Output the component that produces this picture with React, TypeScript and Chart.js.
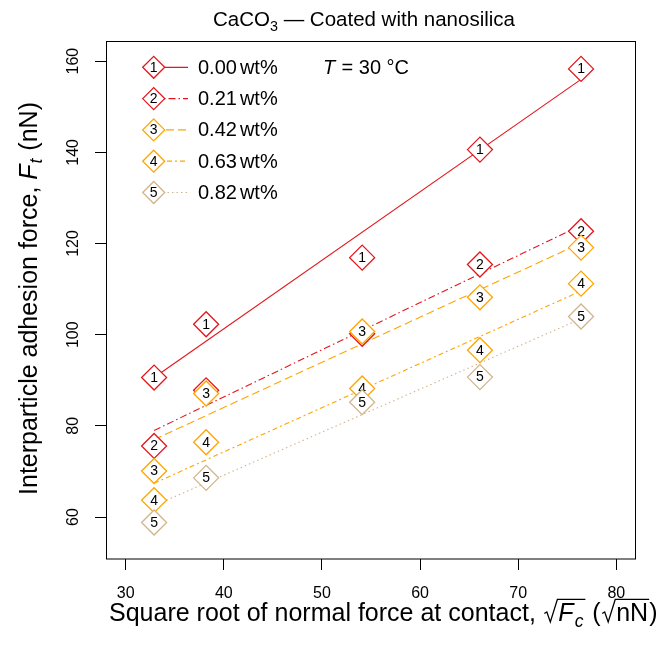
import React, { useEffect, useRef } from 'react';
import { Chart, registerables } from 'chart.js';

Chart.register(...registerables);

// ---- data ----
const xValues = [32.9, 38.2, 54.1, 66.1, 76.4];
const force000 = [90.6, 102.3, 116.9, 140.6, 158.3];
const force021 = [75.6, 87.8, 100.2, 115.4, 122.7];
const force042 = [70.1, 87.1, 100.7, 108.2, 119.1];
const force063 = [63.7, 76.4, 88.2, 96.6, 111.2];
const force082 = [58.8, 68.6, 85.2, 90.7, 104.0];

// fitted straight lines (end points)
const fitX = [32.9, 76.4];
const fit000 = [90.6, 156.0];
const fit021 = [79.0, 124.0];
const fit042 = [77.0, 120.1];
const fit063 = [67.4, 109.6];
const fit082 = [62.5, 103.5];

const seriesLabels = ['0.00', '0.21', '0.42', '0.63', '0.82'];
const xTicks = [30, 40, 50, 60, 70, 80];
const yTicks = [60, 80, 100, 120, 140, 160];

// ---- styles ----
const SERIES = [force000, force021, force042, force063, force082];
const FITS = [fit000, fit021, fit042, fit063, fit082];
const COLORS = ['#E3161C', '#E3161C', '#FFA500', '#FFA500', '#D2B48C'];
const DASHES: number[][] = [[], [7, 3, 1.5, 3], [8, 4], [5, 3, 2, 3], [1.5, 3]];
const SANS = '"Liberation Sans", Arial, sans-serif';

type Seg = { t?: string; italic?: boolean; sub?: boolean; sqrt?: Seg[]; gap?: number };

function fontFor(size: number, italic?: boolean) {
  return `${italic ? 'italic ' : ''}${size}px ${SANS}`;
}

function segWidth(ctx: CanvasRenderingContext2D, seg: Seg, size: number): number {
  if (seg.gap) return seg.gap * size;
  if (seg.sqrt) return size * 0.62 + segsWidth(ctx, seg.sqrt, size) + size * 0.04;
  const s = seg.sub ? size * 0.7 : size;
  ctx.font = fontFor(s, seg.italic);
  return ctx.measureText(seg.t || '').width + (seg.italic ? size * 0.04 : 0);
}
function segsWidth(ctx: CanvasRenderingContext2D, segs: Seg[], size: number): number {
  return segs.reduce((a, s) => a + segWidth(ctx, s, size), 0);
}
function drawSegs(ctx: CanvasRenderingContext2D, segs: Seg[], x: number, y: number, size: number, color: string): number {
  let cx = x;
  for (const seg of segs) {
    ctx.fillStyle = color;
    ctx.textBaseline = 'alphabetic';
    ctx.textAlign = 'left';
    if (seg.gap) { cx += seg.gap * size; continue; }
    if (seg.sqrt) {
      const inner = segsWidth(ctx, seg.sqrt, size);
      const rw = size * 0.62;
      const top = y - size * 0.86;
      ctx.save();
      ctx.strokeStyle = color;
      ctx.lineWidth = Math.max(1, size * 0.05);
      ctx.lineJoin = 'miter';
      ctx.beginPath();
      ctx.moveTo(cx + size * 0.06, y - size * 0.3);
      ctx.lineTo(cx + size * 0.16, y - size * 0.36);
      ctx.lineTo(cx + size * 0.3, y + size * 0.04);
      ctx.lineTo(cx + rw - size * 0.04, top);
      ctx.lineTo(cx + rw + inner + size * 0.04, top);
      ctx.stroke();
      ctx.restore();
      drawSegs(ctx, seg.sqrt, cx + rw, y, size, color);
      cx += rw + inner + size * 0.04;
      continue;
    }
    const s = seg.sub ? size * 0.7 : size;
    ctx.font = fontFor(s, seg.italic);
    ctx.fillText(seg.t || '', cx, seg.sub ? y + size * 0.22 : y);
    cx += ctx.measureText(seg.t || '').width + (seg.italic ? size * 0.04 : 0);
  }
  return cx;
}
function fitSize(ctx: CanvasRenderingContext2D, segs: Seg[], target: number) {
  return (20 * target) / segsWidth(ctx, segs, 20);
}

const TITLE: Seg[] = [{ t: 'CaCO' }, { t: '3', sub: true }, { t: ' \u2014 Coated with nanosilica' }];
const X_TITLE: Seg[] = [
  { t: 'Square root of normal force at contact, ' },
  { sqrt: [{ t: 'F', italic: true }, { t: 'c', italic: true, sub: true }] },
  { t: ' (' },
  { sqrt: [{ t: 'nN' }] },
  { t: ')' },
];
const Y_TITLE: Seg[] = [
  { t: 'Interparticle adhesion force, ' },
  { t: 'F', italic: true },
  { t: 't', italic: true, sub: true },
  { t: ' (nN)' },
];

function drawDiamond(ctx: CanvasRenderingContext2D, x: number, y: number, r: number, color: string, label: string) {
  ctx.save();
  ctx.beginPath();
  ctx.moveTo(x - r, y);
  ctx.lineTo(x, y - r);
  ctx.lineTo(x + r, y);
  ctx.lineTo(x, y + r);
  ctx.closePath();
  ctx.fillStyle = '#fff';
  ctx.fill();
  ctx.strokeStyle = color;
  ctx.lineWidth = 1.3;
  ctx.stroke();
  ctx.fillStyle = '#000';
  ctx.font = `14px ${SANS}`;
  ctx.textAlign = 'center';
  ctx.textBaseline = 'middle';
  ctx.fillText(label, x, y + 0.5);
  ctx.restore();
}

const markerNumbers = {
  id: 'markerNumbers',
  afterDatasetDraw(chart: any, args: any) {
    const ds = chart.data.datasets[args.index];
    if (!ds.markerText) return;
    const ctx = chart.ctx as CanvasRenderingContext2D;
    ctx.save();
    ctx.fillStyle = '#000';
    ctx.font = `14px ${SANS}`;
    ctx.textAlign = 'center';
    ctx.textBaseline = 'middle';
    args.meta.data.forEach((el: any) => {
      ctx.fillText(ds.markerText, el.x, el.y + 0.5);
    });
    ctx.restore();
  },
};

const overlay = {
  id: 'overlay',
  afterDraw(chart: any) {
    const ctx = chart.ctx as CanvasRenderingContext2D;
    const ca = chart.chartArea;
    ctx.save();
    // box
    ctx.strokeStyle = '#000';
    ctx.lineWidth = 1;
    ctx.setLineDash([]);
    ctx.strokeRect(Math.round(ca.left) + 0.5, Math.round(ca.top) - 0.5, Math.round(ca.right - ca.left) - 1, Math.round(ca.bottom - ca.top) + 0.5);

    // y tick labels (rotated, as in the reference), positioned by the y scale
    const yScale = chart.scales.y;
    ctx.fillStyle = '#000';
    ctx.font = `16px ${SANS}`;
    ctx.textAlign = 'center';
    ctx.textBaseline = 'middle';
    yTicks.forEach((v) => {
      const py = yScale.getPixelForValue(v);
      ctx.save();
      ctx.translate(74, py);
      ctx.rotate(-Math.PI / 2);
      ctx.fillText(String(v), 0, 0);
      ctx.restore();
    });

    // title
    const ts = fitSize(ctx, TITLE, 302);
    drawSegs(ctx, TITLE, 213, 26, ts, '#000');

    // x title
    const xs = fitSize(ctx, X_TITLE, 549);
    drawSegs(ctx, X_TITLE, 109, 621, xs, '#000');

    // y title
    const ys = fitSize(ctx, Y_TITLE, 393);
    const yw = segsWidth(ctx, Y_TITLE, ys);
    ctx.save();
    ctx.translate(36.5, 298.5);
    ctx.rotate(-Math.PI / 2);
    drawSegs(ctx, Y_TITLE, -yw / 2, 0, ys, '#000');
    ctx.restore();

    // legend
    for (let i = 0; i < seriesLabels.length; i++) {
      const y = 67.3 + i * 31.3;
      ctx.save();
      ctx.strokeStyle = COLORS[i];
      ctx.lineWidth = 1.2;
      ctx.setLineDash(DASHES[i]);
      ctx.beginPath();
      ctx.moveTo(154, y);
      ctx.lineTo(188, y);
      ctx.stroke();
      ctx.restore();
      drawDiamond(ctx, 153.7, y, 11, COLORS[i], String(i + 1));
      drawSegs(ctx, [{ t: seriesLabels[i] }, { gap: 0.15 }, { t: 'wt%' }], 198, y + 6.5, 20, '#000');
    }
    // temperature note
    drawSegs(ctx, [{ t: 'T', italic: true }, { t: ' = 30 \u00B0C' }], 323, 73.8, 20, '#000');
    ctx.restore();
  },
};

export default function App() {
  const ref = useRef<HTMLCanvasElement | null>(null);
  useEffect(() => {
    if (!ref.current) return;
    const datasets: any[] = [];
    FITS.forEach((f, i) => {
      datasets.push({
        type: 'line',
        label: 'fit ' + seriesLabels[i],
        data: fitX.map((x, k) => ({ x, y: f[k] })),
        borderColor: COLORS[i],
        borderWidth: 1.1,
        borderDash: DASHES[i],
        pointRadius: 0,
        fill: false,
        tension: 0,
        order: 20 + i,
      });
    });
    SERIES.forEach((s, i) => {
      datasets.push({
        type: 'scatter',
        label: seriesLabels[i] + ' wt%',
        data: xValues.map((x, k) => ({ x, y: s[k] })),
        pointStyle: 'rectRot',
        pointRadius: 12.5,
        pointBorderWidth: 1.3,
        pointBorderColor: COLORS[i],
        pointBackgroundColor: '#ffffff',
        borderColor: COLORS[i],
        backgroundColor: '#ffffff',
        showLine: false,
        order: 4 - i,
        markerText: String(i + 1),
      });
    });

    const tickFont = { family: SANS, size: 16 };
    const chart = new Chart(ref.current, {
      type: 'scatter',
      data: { datasets },
      options: {
        animation: false,
        responsive: false,
        maintainAspectRatio: false,
        layout: { padding: { top: 42, right: 34, left: 0, bottom: 0 } },
        plugins: {
          legend: { display: false },
          tooltip: { enabled: false },
          title: { display: false },
        },
        scales: {
          x: {
            type: 'linear',
            min: 28,
            max: 82,
            afterBuildTicks: (s: any) => { s.ticks = xTicks.map((v) => ({ value: v })); },
            afterFit: (s: any) => { s.height = 89; },
            grid: { drawOnChartArea: false, drawTicks: true, tickLength: 11, color: '#000', tickColor: '#000', lineWidth: 1 },
            border: { display: false },
            ticks: { font: tickFont, color: '#000', padding: 14, maxRotation: 0, minRotation: 0, autoSkip: false },
          },
          y: {
            type: 'linear',
            min: 50.8,
            max: 164.2,
            afterBuildTicks: (s: any) => { s.ticks = yTicks.map((v) => ({ value: v })); },
            afterFit: (s: any) => { s.width = 106; },
            grid: { drawOnChartArea: false, drawTicks: true, tickLength: 11, color: '#000', tickColor: '#000', lineWidth: 1 },
            border: { display: false },
            ticks: { display: false },
          },
        },
      } as any,
      plugins: [markerNumbers, overlay],
    });
    return () => chart.destroy();
  }, []);

  return (
    <div style={{ position: 'fixed', left: 0, top: 0, width: 670, height: 648, background: '#fff' }}>
      <canvas ref={ref} width={670} height={648} style={{ display: 'block', width: 670, height: 648 }} />
    </div>
  );
}
